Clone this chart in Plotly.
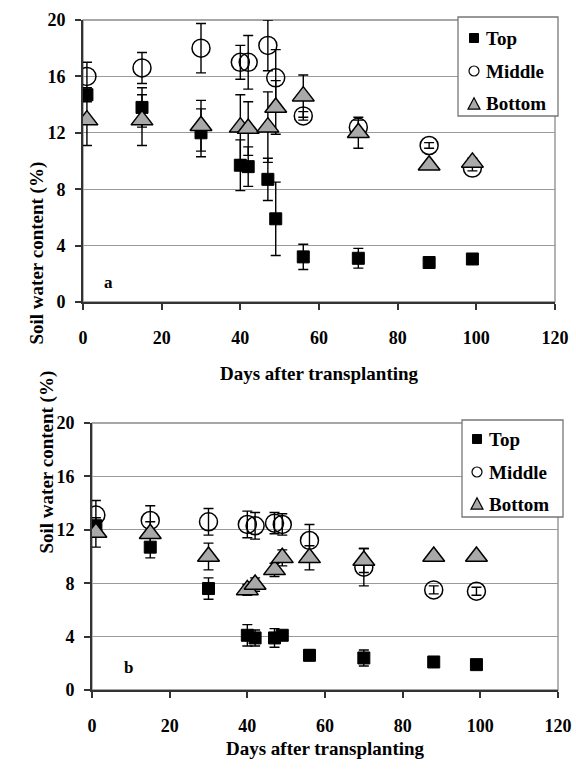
import plotly.graph_objects as go

# ---------------- data ----------------
days = [1, 15, 30, 40, 42, 47, 49, 56, 70, 88, 99]

# panel a
top_a = [14.7, 13.8, 12.0, 9.7, 9.6, 8.7, 5.9, 3.2, 3.1, 2.8, 3.05]
top_a_err = [0.5, 1.4, 1.7, 1.8, 1.4, 1.5, 2.6, 0.9, 0.7, 0.2, 0.2]
mid_a = [16.0, 16.6, 18.0, 17.0, 17.0, 18.2, 15.9, 13.2, 12.4, 11.1, 9.5]
mid_a_err = [1.0, 1.1, 1.75, 1.2, 1.9, 1.8, 2.0, 0.3, 0.5, 0.2, 0.2]
bot_a = [12.9, 12.9, 12.5, 12.4, 12.3, 12.4, 13.8, 14.6, 12.0, 9.7, 9.9]
bot_a_err = [1.8, 1.8, 1.8, 2.3, 1.9, 2.5, 1.9, 1.5, 1.1, 0.2, 0.3]

# panel b
top_b = [12.3, 10.7, 7.6, 4.1, 3.9, 3.9, 4.1, 2.6, 2.4, 2.1, 1.9]
top_b_err = [0.4, 0.8, 0.8, 0.8, 0.6, 0.7, 0.3, 0.4, 0.6, 0.2, 0.1]
mid_b = [13.1, 12.7, 12.6, 12.4, 12.3, 12.5, 12.4, 11.2, 9.2, 7.5, 7.4]
mid_b_err = [1.1, 1.1, 1.0, 1.0, 1.0, 0.8, 0.8, 1.2, 1.4, 0.3, 0.3]
bot_b = [11.8, 11.7, 10.0, 7.5, 7.9, 9.0, 9.9, 9.9, 9.7, 10.0, 10.0]
bot_b_err = [1.1, 0.9, 1.0, 0.4, 0.5, 0.5, 0.6, 0.9, 0.9, 0.2, 0.2]

series_names = ["Top", "Middle", "Bottom"]
x_ticks = [0, 20, 40, 60, 80, 100, 120]
y_ticks = [0, 4, 8, 12, 16, 20]
panel_labels = ["a", "b"]
x_title = "Days after transplanting"
y_title = "Soil water content (%)"

FONT = "Liberation Serif"
W, H = 576, 771
TRI_GRAY = "#a9a9a9"

styles = {
    "Top": dict(symbol="square", size=12, color="black", line=dict(color="black", width=1)),
    "Middle": dict(symbol="circle-open", size=18, color="black", line=dict(color="black", width=1.5)),
    "Bottom": dict(symbol="triangle-up", size=19, color=TRI_GRAY, line=dict(color="black", width=1.5)),
}

fig = go.Figure()

panels = [
    ("x", "y", [(top_a, top_a_err), (mid_a, mid_a_err), (bot_a, bot_a_err)]),
    ("x2", "y2", [(top_b, top_b_err), (mid_b, mid_b_err), (bot_b, bot_b_err)]),
]

for xa, ya, data in panels:
    for name, (vals, errs) in zip(series_names, data):
        fig.add_trace(go.Scatter(
            x=days, y=vals, mode="markers", name=name, xaxis=xa, yaxis=ya,
            marker=styles[name], showlegend=False,
            error_y=dict(type="data", array=errs, visible=True, color="black",
                         thickness=1.4, width=5),
        ))

# geometry (page pixels)
top_px = dict(l=83, r=555, t=20, b=302)
bot_px = dict(l=92, r=558, t=423, b=690)


def px(x):
    return x / W


def py(y):
    return 1 - y / H


def xdom(p):
    return [px(p["l"]), px(p["r"])]


def ydom(p):
    return [py(p["b"]), py(p["t"])]


axis_font = dict(family=FONT, size=18, color="black")
bold = lambda s: "<b>" + str(s) + "</b>"

common_x = dict(range=[0, 120], tickvals=x_ticks, ticktext=[bold(t) for t in x_ticks],
                ticks="outside", ticklen=6, tickwidth=1.5, automargin=False,
                tickcolor="#333", showline=True, linecolor="#333", linewidth=1.8,
                showgrid=False, zeroline=False, tickfont=axis_font, ticklabelstandoff=12,
                fixedrange=True)
common_y = dict(range=[0, 20], tickvals=y_ticks, ticktext=[bold(t) for t in y_ticks],
                ticks="outside", ticklen=6, tickwidth=1.5, automargin=False,
                tickcolor="#333", showline=True, linecolor="#333", linewidth=1.8,
                showgrid=True, gridcolor="#9a9a9a", gridwidth=1.3, zeroline=False,
                tickfont=axis_font, ticklabelstandoff=6, fixedrange=True)

fig.update_layout(
    width=W, height=H, margin=dict(l=0, r=0, t=0, b=0, pad=0, autoexpand=False),
    paper_bgcolor="white", plot_bgcolor="white",
    font=dict(family=FONT, size=17, color="black"),
    xaxis=dict(domain=xdom(top_px), anchor="y", **common_x),
    yaxis=dict(domain=ydom(top_px), anchor="x", **common_y),
    xaxis2=dict(domain=xdom(bot_px), anchor="y2", **common_x),
    yaxis2=dict(domain=ydom(bot_px), anchor="x2", **common_y),
    showlegend=False,
)

# plot-area borders (gray)
for xr, yr in [("x domain", "y domain"), ("x2 domain", "y2 domain")]:
    fig.add_shape(type="rect", xref=xr, yref=yr, x0=0, x1=1, y0=0, y1=1,
                  line=dict(color="#8a8a8a", width=1.3), layer="below")


# ---------- manual legends (Excel style) ----------
def add_legend(box, rows, mx, tx):
    l, t, r, b = box
    fig.add_shape(type="rect", xref="paper", yref="paper", x0=px(l), x1=px(r),
                  y0=py(b), y1=py(t), line=dict(color="#777", width=1.3),
                  fillcolor="white", layer="above")
    for name, ry in zip(series_names, rows):
        if name == "Top":
            s = 4.5
            fig.add_shape(type="rect", xref="paper", yref="paper",
                          x0=px(mx - s), x1=px(mx + s), y0=py(ry + s), y1=py(ry - s),
                          fillcolor="black", line=dict(color="black", width=1), layer="above")
        elif name == "Middle":
            s = 5
            fig.add_shape(type="circle", xref="paper", yref="paper",
                          x0=px(mx - s), x1=px(mx + s), y0=py(ry + s), y1=py(ry - s),
                          fillcolor="white", line=dict(color="black", width=1.2), layer="above")
        else:
            s = 6
            path = "M {:.5f} {:.5f} L {:.5f} {:.5f} L {:.5f} {:.5f} Z".format(
                px(mx - s), py(ry + s * 0.85), px(mx + s), py(ry + s * 0.85),
                px(mx), py(ry - s * 1.05))
            fig.add_shape(type="path", xref="paper", yref="paper", path=path,
                          fillcolor=TRI_GRAY, line=dict(color="black", width=1.2), layer="above")
        fig.add_annotation(x=px(tx), y=py(ry), xref="paper", yref="paper", text=bold(name),
                           xanchor="left", yanchor="middle", showarrow=False,
                           font=dict(family=FONT, size=19, color="black"))


add_legend((458, 17, 558, 116), [38, 71, 104], 474, 484)
add_legend((462, 420, 563, 517), [439, 472, 504], 477, 487)

# panel letters
fig.add_annotation(x=6.4, y=1.4, xref="x", yref="y", text=bold(panel_labels[0]),
                   showarrow=False, font=dict(family=FONT, size=17))
fig.add_annotation(x=9.3, y=1.7, xref="x2", yref="y2", text=bold(panel_labels[1]),
                   showarrow=False, font=dict(family=FONT, size=17))

# axis titles
fig.add_annotation(x=px((83 + 555) / 2), y=py(373), xref="paper", yref="paper",
                   text=bold(x_title), showarrow=False, font=dict(family=FONT, size=19))
fig.add_annotation(x=px((92 + 558) / 2), y=py(761), xref="paper", yref="paper",
                   text=bold(x_title), showarrow=False, font=dict(family=FONT, size=19))
fig.add_annotation(x=px(23), y=py(160), xref="paper", yref="paper", textangle=-90,
                   text=bold(y_title), showarrow=False, font=dict(family=FONT, size=19))
fig.add_annotation(x=px(33), y=py(556), xref="paper", yref="paper", textangle=-90,
                   text=bold(y_title), showarrow=False, font=dict(family=FONT, size=19))

fig.write_html("out.html", post_script="document.body.style.margin='0px';")
